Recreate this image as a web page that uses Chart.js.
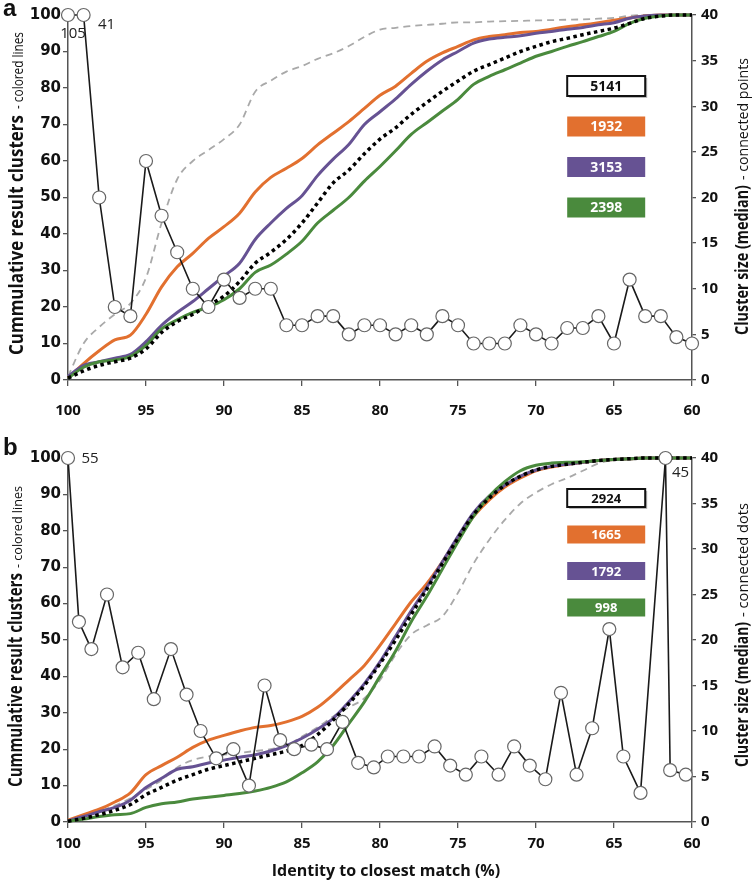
<!DOCTYPE html>
<html>
<head>
<meta charset="utf-8">
<script src="https://cdn.jsdelivr.net/npm/chart.js@4.4.0/dist/chart.umd.min.js"></script>
<style>
  body { margin: 0; background: #fff; }
  canvas { display: block; }
</style>
</head>
<body>
<canvas id="chartA" width="755" height="425"></canvas>
<canvas id="chartB" width="755" height="456"></canvas>
<script>
/******* shared x categories (identity %, 100 -> 60) *******/
var identity = [100, 99, 98, 97, 96, 95, 94, 93, 92, 91,
                90, 89, 88, 87, 86, 85, 84, 83, 82, 81,
                80, 79, 78, 77, 76, 75, 74, 73, 72, 71,
                70, 69, 68, 67, 66, 65, 64, 63, 62, 61, 60];

/******* panel a : cumulative result clusters (%) *******/
var orangeA = [0.5, 4.5, 8, 11, 12.3, 18, 25.5, 31, 34.7, 38.8,
               42, 45.7, 51.5, 55.5, 58, 60.7, 64.4, 67.6, 70.8, 74.4,
               78, 80.5, 84, 87.3, 89.6, 91.4, 93.2, 94.1, 94.6, 95.2,
               95.5, 96.1, 96.8, 97.3, 97.9, 98.6, 99.2, 99.7, 100, 100, 100];
var purpleA = [1, 4, 5, 6, 7, 10.5, 15, 18.5, 21.5, 25,
               28.5, 32, 38.5, 43, 47, 50.5, 56, 60.5, 64.5, 70,
               73.5, 77, 81, 84.6, 87.7, 90, 92.3, 93.4, 93.9, 94.3,
               95, 95.5, 96.1, 96.6, 97.3, 97.9, 99.1, 99.7, 100, 100, 100];
var blackA  = [0.5, 2.5, 4, 5, 6, 8.5, 13, 16, 18, 20.5,
               23, 27, 32, 35, 38.5, 43, 48.5, 54, 57.5, 62,
               66, 69.1, 72.8, 76, 79.1, 81.9, 84.6, 86.4, 88.2, 90,
               91.4, 92.7, 93.6, 94.6, 95.5, 96.4, 97.7, 99.1, 99.7, 100, 100];
var greenA  = [0.5, 3.5, 5, 5.5, 6.5, 9.5, 14, 16.5, 18.5, 20,
               22, 25, 29.5, 31.5, 34.5, 38, 43, 46.5, 50, 54.5,
               58.5, 62.8, 67.3, 70.5, 73.7, 76.9, 81, 83.2, 85, 86.8,
               88.7, 90, 91.4, 92.7, 94.1, 95.5, 97.7, 99.1, 99.7, 100, 100];
var grayA   = [1, 10, 14.5, 18, 21, 28, 43, 55, 60, 63,
               66, 70, 79, 82, 84.5, 86, 88, 89.5, 91.5, 94,
               96, 96.5, 97, 97.3, 97.6, 98, 98, 98.2, 98.3, 98.4,
               98.5, 98.6, 98.7, 98.8, 99, 99.2, 99.8, 100, 100, 100, 100];
// median cluster size (right axis)
var sizeA = [105, 41, 20, 8, 7, 24, 18, 14, 10, 8,
             11, 9, 10, 10, 6, 6, 7, 7, 5, 6,
             6, 5, 6, 5, 7, 6, 4, 4, 4, 6,
             5, 4, 5.7, 5.7, 7, 4, 11, 7, 7, 4.7, 4];
var countsA = ['5141', '1932', '3153', '2398'];

/******* panel b *******/
var orangeB = [0.5, 2, 3.5, 5.5, 8, 13, 15.5, 17.8, 20.5, 22.5,
               23.8, 25, 26, 26.5, 27.5, 29, 31.5, 35, 39, 43,
               48.5, 54.5, 60.5, 65.5, 71.5, 78, 84, 88.5, 92, 94.5,
               96.5, 97.5, 98.3, 98.8, 99.3, 99.6, 99.8, 100, 100, 100, 100];
var purpleB = [0.3, 1.5, 2.8, 4, 6, 9.5, 12, 14.5, 15.2, 16.2,
               17, 17.8, 18.5, 19.5, 21, 23, 25.5, 28.5, 33, 38,
               44, 51, 58, 64.5, 71.5, 78.5, 85, 89.5, 92.5, 95,
               96.7, 97.7, 98.3, 98.8, 99.3, 99.6, 99.8, 100, 100, 100, 100];
var blackB  = [0.2, 1, 2, 3.2, 4.8, 7.5, 9.5, 11.5, 13, 14.5,
               15.5, 16.5, 17.5, 18.5, 19.5, 21, 24, 28, 32.5, 37.5,
               43.5, 50, 57, 64, 71, 78, 84.5, 89, 92.5, 95,
               96.7, 97.7, 98.3, 98.8, 99.3, 99.6, 99.8, 100, 100, 100, 100];
var greenB  = [0.2, 0.8, 1.5, 2, 2.3, 4, 5, 5.5, 6.3, 6.8,
               7.3, 7.8, 8.5, 9.5, 11, 13.5, 16.5, 21, 27, 33,
               40, 47, 55, 62, 69.5, 77, 84, 89.5, 93.5, 96.5,
               98, 98.6, 98.8, 99, 99.3, 99.6, 99.8, 100, 100, 100, 100];
var grayB   = [0.3, 1.5, 3, 4.5, 6.5, 9, 11.5, 15, 17, 18,
               18.5, 19, 19.5, 20, 21, 23.5, 26, 29, 31.5, 34,
               39, 46, 51.5, 54, 56.5, 63, 71, 77.5, 83, 87.5,
               90.5, 92.8, 94.5, 96.5, 98.5, 99.5, 100, 100, 100, 100, 100];
// points of panel b sit between whole percents
var identityB = [100, 99.3, 98.5, 97.5, 96.5, 95.5, 94.5, 93.4, 92.4, 91.5,
                 90.5, 89.4, 88.4, 87.4, 86.4, 85.5, 84.4, 83.4, 82.4, 81.4,
                 80.4, 79.5, 78.5, 77.5, 76.5, 75.5, 74.5, 73.5, 72.4, 71.4,
                 70.4, 69.4, 68.4, 67.4, 66.4, 65.3, 64.4, 63.3, 61.7, 61.4, 60.4];
var sizeB = [55, 22, 19, 25, 17, 18.6, 13.5, 19, 14, 10,
             7, 8, 4, 15, 9, 8, 8.5, 8, 11, 6.5,
             6, 7.2, 7.2, 7.2, 8.3, 6.2, 5.2, 7.2, 5.2, 8.3,
             6.2, 4.7, 14.2, 5.2, 10.3, 21.2, 7.2, 3.2, 45, 5.7, 5.2];
var countsB = ['2924', '1665', '1792', '998'];

var SIZE_CAP = 40;
var ORANGE = '#E2702F', PURPLE = '#665293', GREEN = '#4A8A3D', GRAY = '#A9A9A9';

function xy(xs, ys) {
  return xs.map(function (v, i) { return { x: v, y: ys[i] }; });
}

function buildDatasets(xs, sizes, sizeX, cols) {
  return [
    { // connected points (right axis), capped at top of axis
      data: xy(sizeX, sizes.map(function (v) { return Math.min(v, SIZE_CAP); })),
      yAxisID: 'y2', borderColor: '#1a1a1a', borderWidth: 1.6, tension: 0,
      pointRadius: 6.5, pointBackgroundColor: '#fff', pointBorderColor: '#666', pointBorderWidth: 1.2,
      clip: false
    },
    { data: xy(xs, cols[2]), borderColor: '#000', borderWidth: 3.5, borderDash: [3.5, 3.5],
      pointRadius: 0, cubicInterpolationMode: 'monotone', clip: false },
    { data: xy(xs, cols[3]), borderColor: GREEN, borderWidth: 3, pointRadius: 0, cubicInterpolationMode: 'monotone', clip: false },
    { data: xy(xs, cols[1]), borderColor: PURPLE, borderWidth: 3, pointRadius: 0, cubicInterpolationMode: 'monotone', clip: false },
    { data: xy(xs, cols[0]), borderColor: ORANGE, borderWidth: 3, pointRadius: 0, cubicInterpolationMode: 'monotone', clip: false },
    { data: xy(xs, cols[4]), borderColor: GRAY, borderWidth: 1.8, borderDash: [7, 5],
      pointRadius: 0, cubicInterpolationMode: 'monotone', clip: false }
  ];
}

function makeScales(xHeight, xPad) {
  return {
    x: {
      type: 'linear', reverse: true, min: 60, max: 100,
      ticks: { stepSize: 5, color: '#111', padding: xPad, maxRotation: 0,
               font: { family: '"Open Sans"', size: 15, weight: 'bold' } },
      grid: { drawOnChartArea: false, tickLength: 6, tickColor: '#555', lineWidth: 1.3 },
      border: { color: '#555', width: 1.5 },
      afterFit: function (s) { s.height = xHeight; }
    },
    y: {
      position: 'left', min: 0, max: 100,
      ticks: { stepSize: 10, color: '#111', padding: 2,
               font: { family: '"DejaVu Sans"', size: 15, weight: 'bold' } },
      grid: { drawOnChartArea: false, tickLength: 5, tickColor: '#555', lineWidth: 1.3 },
      border: { color: '#555', width: 1.5 },
      afterFit: function (s) { s.width = 68; }
    },
    y2: {
      position: 'right', min: 0, max: 40,
      ticks: { stepSize: 5, color: '#111', padding: 5,
               font: { family: '"Open Sans"', size: 15, weight: 'bold' } },
      grid: { drawOnChartArea: false, tickLength: 4, tickColor: '#555', lineWidth: 1.3 },
      border: { color: '#555', width: 1.5 },
      afterFit: function (s) { s.width = 63; }
    }
  };
}

/***** texts, count boxes and capped-value labels *****/
var decor = {
  id: 'decor',
  afterDraw: function (chart, args, o) {
    var ctx = chart.ctx, area = chart.chartArea;
    ctx.save();
    ctx.fillStyle = '#111';

    // panel letter
    ctx.font = 'bold 24px "Liberation Sans"';
    ctx.textAlign = 'left';
    ctx.textBaseline = 'alphabetic';
    ctx.fillText(o.letter, 3, o.letterY);

    // rotated axis title, each part squeezed to the length seen in the figure
    function vtitle(t) {
      ctx.save();
      ctx.translate(t.x, t.y);
      ctx.rotate(-Math.PI / 2);
      ctx.textAlign = 'left';
      ctx.textBaseline = 'alphabetic';
      var pos = 0;
      t.parts.forEach(function (p) {
        ctx.font = p.weight + ' ' + p.size + 'px "Open Sans"';
        var w = ctx.measureText(p.text).width;
        ctx.save();
        ctx.translate(pos + (p.gap || 0), 0);
        ctx.scale(p.len / w, 1);
        ctx.fillText(p.text, 0, 0);
        ctx.restore();
        pos += (p.gap || 0) + p.len;
      });
      ctx.restore();
    }
    vtitle(o.left);
    vtitle(o.right);

    if (o.xTitle) {
      ctx.font = 'bold 16px "Open Sans"';
      ctx.textAlign = 'center';
      ctx.textBaseline = 'middle';
      ctx.fillText(o.xTitle, 386, o.xTitleY);
    }

    // count boxes
    var xs = chart.scales.x;
    var bx0 = xs.getPixelForValue(68), bx1 = xs.getPixelForValue(63);
    var cols = [null, ORANGE, PURPLE, GREEN];
    o.counts.forEach(function (label, i) {
      var top = area.top + o.boxTop + i * o.boxGap;
      if (i === 0) {
        ctx.fillStyle = '#bbb';
        ctx.fillRect(bx0 + 2, top + 2, bx1 - bx0, o.boxH);
        ctx.fillStyle = '#fff';
        ctx.fillRect(bx0, top, bx1 - bx0, o.boxH);
        ctx.strokeStyle = '#111';
        ctx.lineWidth = 2;
        ctx.strokeRect(bx0, top, bx1 - bx0, o.boxH);
        ctx.fillStyle = '#111';
      } else {
        ctx.fillStyle = cols[i];
        ctx.fillRect(bx0, top, bx1 - bx0, o.boxH);
        ctx.fillStyle = '#fff';
      }
      ctx.font = 'bold ' + o.boxFont + 'px "Open Sans"';
      ctx.textAlign = 'center';
      ctx.textBaseline = 'middle';
      ctx.fillText(label, (bx0 + bx1) / 2, top + o.boxH / 2 + 1);
    });

    // labels for values above the right axis
    var pts = chart.getDatasetMeta(0).data;
    var k = 0;
    ctx.fillStyle = '#222';
    ctx.font = '15px "Open Sans"';
    ctx.textAlign = 'center';
    ctx.textBaseline = 'middle';
    o.sizes.forEach(function (v, i) {
      if (v > SIZE_CAP) {
        var off = o.capOffsets[k++];
        ctx.fillText(String(v), pts[i].x + off[0], pts[i].y + off[1]);
      }
    });
    ctx.restore();
  }
};

function makeChart(id, ds, padTop, xHeight, xPad, deco) {
  return new Chart(document.getElementById(id), {
    type: 'line',
    data: { datasets: ds },
    options: {
      responsive: false,
      animation: false,
      devicePixelRatio: 1,
      layout: { padding: { top: padTop, left: 0, right: 0, bottom: 0 } },
      scales: makeScales(xHeight, xPad),
      plugins: { legend: { display: false }, tooltip: { enabled: false }, decor: deco }
    },
    plugins: [decor]
  });
}

var chartA = makeChart('chartA',
  buildDatasets(identity, sizeA, identity, [orangeA, purpleA, blackA, greenA, grayA]),
  15, 45, 16, {
    letter: 'a', letterY: 16,
    left: { x: 23, y: 355, parts: [
      { text: 'Cummulative result clusters', weight: 'bold', size: 20, len: 240 },
      { text: '- colored lines', weight: 'normal', size: 14, len: 77, gap: 6 } ] },
    right: { x: 748, y: 335, parts: [
      { text: 'Cluster size (median)', weight: 'bold', size: 17, len: 150 },
      { text: '- connected points', weight: 'normal', size: 14, len: 122, gap: 5 } ] },
    counts: countsA, boxTop: 61, boxGap: 40.5, boxH: 20, boxFont: 14,
    sizes: sizeA, capOffsets: [[5, 19], [23, 10]]
  });

var chartB = makeChart('chartB',
  buildDatasets(identity, sizeB, identityB, [orangeB, purpleB, blackB, greenB, grayB]),
  33, 59, 7, {
    letter: 'b', letterY: 30,
    left: { x: 22, y: 362, parts: [
      { text: 'Cummulative result clusters', weight: 'bold', size: 19, len: 214 },
      { text: '- colored lines', weight: 'normal', size: 13, len: 82, gap: 5 } ] },
    right: { x: 748, y: 342, parts: [
      { text: 'Cluster size (median)', weight: 'bold', size: 17, len: 145 },
      { text: '- connected dots', weight: 'normal', size: 14, len: 114, gap: 5 } ] },
    xTitle: 'Identity to closest match (%)', xTitleY: 446,
    counts: countsB, boxTop: 31, boxGap: 36.5, boxH: 18, boxFont: 13,
    sizes: sizeB, capOffsets: [[22, 1], [15, 15]]
  });
</script>
</body>
</html>
